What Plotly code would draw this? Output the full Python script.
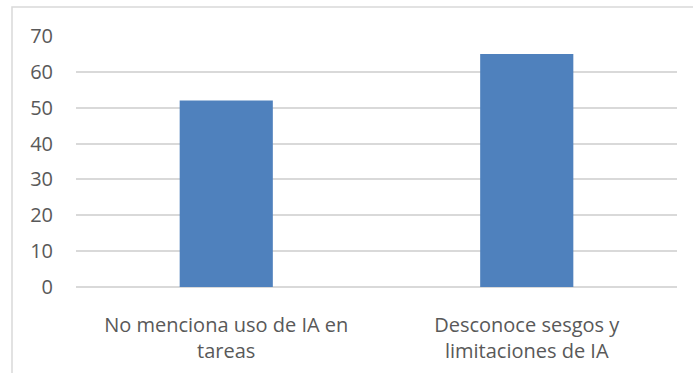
import plotly.graph_objects as go

categories = ["No menciona uso de IA en<br>tareas", "Desconoce sesgos y<br>limitaciones de IA"]
values = [52, 65]
y_ticks = [0, 10, 20, 30, 40, 50, 60, 70]

fig = go.Figure(go.Bar(x=categories, y=values, marker=dict(color="#4F81BD", line=dict(width=0)), width=0.31))

L, R, T, B = 76, 16, 36, 86
W, H = 693, 373
pw, ph = W - L - R, H - T - B

fig.update_layout(
    width=W, height=H,
    margin=dict(l=L, r=R, t=T, b=B),
    paper_bgcolor="white", plot_bgcolor="white",
    showlegend=False,
    font=dict(family="Open Sans", color="#595959", size=18),
    xaxis=dict(showgrid=False, showline=False, zeroline=False, ticks="", tickfont=dict(size=20),
               ticklabelstandoff=24, automargin=False),
    yaxis=dict(range=[0, 70], tickvals=y_ticks, showgrid=True, gridcolor="#d9d9d9", gridwidth=1.5,
               zeroline=True, zerolinecolor="#d9d9d9", zerolinewidth=1.5, showline=False,
               ticks="", ticklabelstandoff=22, tickfont=dict(size=20), automargin=False),
    shapes=[dict(type="rect", xref="paper", yref="paper",
                 x0=(12 - L) / pw, x1=(700 - L) / pw,
                 y0=-(380 - T - ph) / ph, y1=1 + (T - 7) / ph,
                 line=dict(color="#d9d9d9", width=1.5), fillcolor="rgba(0,0,0,0)", layer="below")],
)

fig.write_html("out.html")
